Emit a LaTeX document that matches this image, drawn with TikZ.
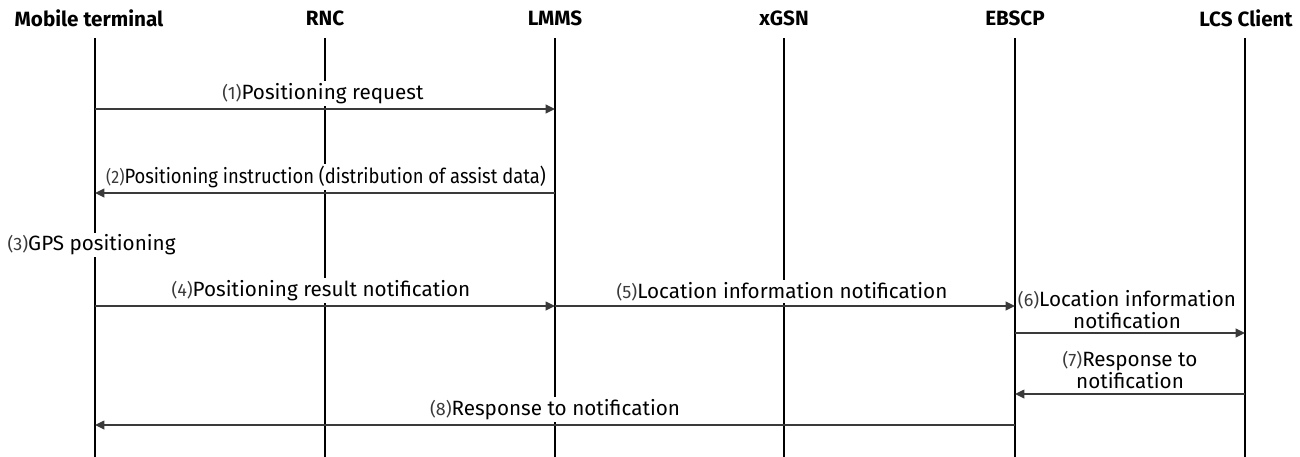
\documentclass[tikz,border=0pt]{standalone}
\usepackage{fontspec}
\setmainfont{Fira Sans}
\usetikzlibrary{arrows.meta,calc}
\definecolor{arrowgray}{HTML}{3A3A3A}
\definecolor{numgray}{HTML}{3A3A3A}
\newcommand{\numlbl}[1]{{\fontsize{13.5}{15}\selectfont\color{numgray}(#1)}}
\tikzset{
  header/.style={font=\fontsize{15.5}{18}\selectfont\bfseries, anchor=center},
  lifeline/.style={line width=1.5pt, black},
  msg/.style={line width=1.1pt, arrowgray, -{Triangle[length=7pt,width=6.5pt]}},
  lbl/.style={fill=white, inner xsep=1pt, inner ysep=1.5pt, font=\fontsize{15.5}{16.5}\selectfont, align=center, anchor=south},
}
\begin{document}
\begin{tikzpicture}[x=0.75pt,y=-0.75pt]
\useasboundingbox (0,0) rectangle (1300,457);
% headers
\node[header] (hMT) at (89,18) {Mobile terminal};
\node[header] (hRNC) at (325,18) {RNC};
\node[header] (hLMMS) at (555,18) {LMMS};
\node[header] (hXGSN) at (784,18) {xGSN};
\node[header] (hEB) at (1015,18) {EBSCP};
\node[header] (hLCS) at (1246,18) {LCS Client};
% lifeline ends
\coordinate (tMT) at (95,38);   \coordinate (bMT) at (95,457);
\coordinate (tRNC) at (325,38); \coordinate (bRNC) at (325,457);
\coordinate (tLM) at (555,38);  \coordinate (bLM) at (555,457);
\coordinate (tXG) at (784,38);  \coordinate (bXG) at (784,457);
\coordinate (tEB) at (1015,38); \coordinate (bEB) at (1015,457);
\coordinate (tLC) at (1245,38); \coordinate (bLC) at (1245,457);
\draw[lifeline] (tMT) -- (bMT);
\draw[lifeline] (tRNC) -- (bRNC);
\draw[lifeline] (tLM) -- (bLM);
\draw[lifeline] (tXG) -- (bXG);
\draw[lifeline] (tEB) -- (bEB);
\draw[lifeline] (tLC) -- (bLC);
% message end points
\coordinate (m1a) at (95,109);   \coordinate (m1b) at (555,109);
\coordinate (m2a) at (555,193);  \coordinate (m2b) at (95,193);
\coordinate (m4a) at (95,306);   \coordinate (m4b) at (555,306);
\coordinate (m5a) at (555,306);  \coordinate (m5b) at (1015,306);
\coordinate (m6a) at (1015,333); \coordinate (m6b) at (1245,333);
\coordinate (m7a) at (1245,394); \coordinate (m7b) at (1015,394);
\coordinate (m8a) at (1015,425); \coordinate (m8b) at (95,425);
% messages
\draw[msg] (m1a) -- (m1b);
\draw[msg] (m2a) -- (m2b);
\draw[msg] (m4a) -- (m4b);
\draw[msg] (m5a) -- (m5b);
\draw[msg] (m6a) -- (m6b);
\draw[msg] (m7a) -- (m7b);
\draw[msg] (m8a) -- (m8b);
% labels
\node[lbl] (l1) at ($(m1a)!0.5!(m1b)+(-2,-3)$) {\numlbl{1}Positioning request};
\node[lbl] (l2) at ($(m2a)!0.5!(m2b)+(1,-3)$) {\scalebox{0.89}[1]{\numlbl{2}Positioning instruction (distribution of assist data)}};
\node[lbl, anchor=west] (l3) at (6,245) {\numlbl{3}GPS positioning};
\node[lbl] (l4) at ($(m4a)!0.5!(m4b)+(-4,-3)$) {\numlbl{4}Positioning result notification};
\node[lbl] (l5) at ($(m5a)!0.5!(m5b)+(-3,-3)$) {\numlbl{5}Location information notification};
\node[lbl, fill=none] (l6) at ($(m6a)!0.5!(m6b)+(-3,-2)$) {\numlbl{6}Location information\\notification};
\node[lbl, fill=none] (l7) at ($(m7a)!0.5!(m7b)+(0,-3)$) {\numlbl{7}Response to\\notification};
\node[lbl] (l8) at ($(m8a)!0.5!(m8b)+(0,-3)$) {\numlbl{8}Response to notification};
\end{tikzpicture}
\end{document}
